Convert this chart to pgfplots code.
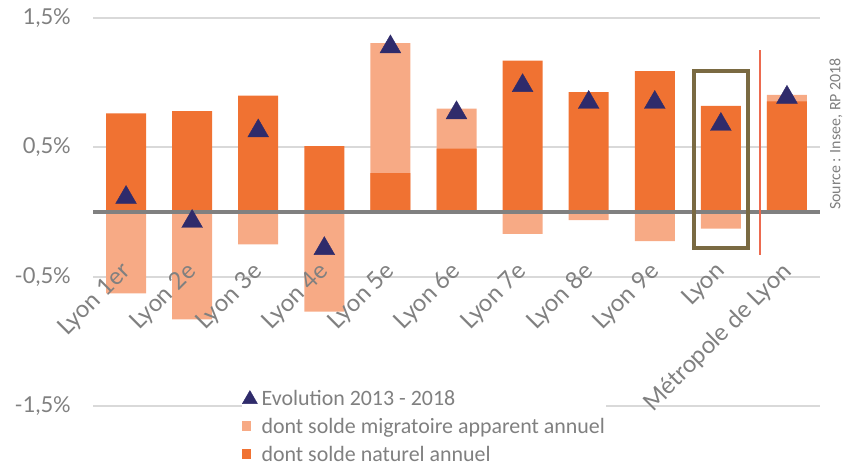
\documentclass[border=0pt]{standalone}
\usepackage{fontspec}
\setmainfont{Lato}
\newfontfamily\carlito{Carlito}
\usepackage{pgfplots}
\pgfplotsset{compat=1.18}
\pgfplotsset{
  layers/mylayers/.define layer set={axis background,axis grid,axis ticks,axis lines,pre main,main,axis tick labels,axis descriptions,axis foreground}{
    grid style={/pgfplots/on layer=axis grid},
    tick style={/pgfplots/on layer=axis ticks},
    axis line style={/pgfplots/on layer=axis lines},
    label style={/pgfplots/on layer=axis descriptions},
    legend style={/pgfplots/on layer=axis descriptions},
    title style={/pgfplots/on layer=axis descriptions},
    colorbar style={/pgfplots/on layer=axis descriptions},
    ticklabel style={/pgfplots/on layer=axis tick labels},
    axis background@ style={/pgfplots/on layer=axis background},
    3d box foreground style={/pgfplots/on layer=axis foreground},
  },
}
\definecolor{nat}{HTML}{F07232}
\definecolor{mig}{HTML}{F7AA85}
\definecolor{navy}{HTML}{2F2B6B}
\definecolor{lab}{HTML}{808080}
\definecolor{gridc}{HTML}{D9D9D9}
\definecolor{boxc}{HTML}{7A6A42}
\definecolor{redl}{HTML}{EC6A4F}
\begin{document}
\begin{tikzpicture}
\begin{axis}[
  set layers=mylayers,
  name=ax, at={(0,0)}, anchor=south west,
  width=727bp, height=388bp, scale only axis,
  xmin=-0.5, xmax=10.5, ymin=-1.5, ymax=1.5,
  axis line style={draw=none},
  tick style={draw=none}, major tick length=0pt,
  ytick={-1.5,-0.5,0.5,1.5},
  yticklabels={{-1,5\%},{-0,5\%},{0,5\%},{1,5\%}},
  yticklabel style={font=\fontsize{22}{26}\selectfont, text=lab, inner sep=0pt, xshift=-22bp},
  ymajorgrids, grid style={gridc, line width=2bp},
  xtick={0,...,10},
  xticklabels={Lyon 1er,Lyon 2e,Lyon 3e,Lyon 4e,Lyon 5e,Lyon 6e,Lyon 7e,Lyon 8e,Lyon 9e,Lyon,Métropole de Lyon},
  xticklabel style={xshift=-7bp, rotate=45, anchor=north east, inner sep=0pt, font=\fontsize{24}{28}\selectfont, text=lab},
  xticklabel shift=-146bp,
  clip=false,
  legend cell align=left,
  legend style={at={(axis description cs:0,0)}, anchor=north west, xshift=149bp, yshift=17bp,
    inner sep=0pt, draw=none, fill=white, row sep=9.5bp,
    font=\carlito\fontsize{22}{25}\selectfont, text=lab,
    nodes={inner sep=1bp}},
]
\addlegendimage{legend image code/.code={\fill[navy] (0bp,-5bp)--(15bp,-5bp)--(7.5bp,8bp)--cycle;}}
\addlegendentry{\hspace{3bp}Evolution 2013 - 2018}
\addlegendimage{legend image code/.code={\fill[mig] (0bp,-3bp) rectangle (8bp,6bp);}}
\addlegendentry{\hspace{3bp}dont solde migratoire apparent annuel}
\addlegendimage{legend image code/.code={\fill[nat] (0bp,-3bp) rectangle (8bp,6bp);}}
\addlegendentry{\hspace{3bp}dont solde naturel annuel}

% light part: positive migratory drawn to total, negative from 0
\addplot[ybar, bar width=40bp, bar shift=0pt, fill=mig, draw=none, forget plot] coordinates {
  (0,-0.63) (1,-0.83) (2,-0.25) (3,-0.77) (4,1.305) (5,0.80) (6,-0.17) (7,-0.063) (8,-0.226) (9,-0.128) (10,0.906)};
% natural
\addplot[ybar, bar width=40bp, bar shift=0pt, fill=nat, draw=none, forget plot] coordinates {
  (0,0.762) (1,0.78) (2,0.90) (3,0.51) (4,0.30) (5,0.49) (6,1.17) (7,0.927) (8,1.09) (9,0.82) (10,0.855)};
% zero line
\addplot[lab, line width=3.5bp, forget plot] coordinates {(-0.5,0) (10.5,0)};
% evolution
\addplot[only marks, mark=triangle*, mark size=12bp, navy, mark options={yshift=-3bp, draw=navy, fill=navy}, forget plot] coordinates {
  (0,0.135) (1,-0.05) (2,0.65) (3,-0.26) (4,1.30) (5,0.79) (6,1.00) (7,0.87) (8,0.87) (9,0.70) (10,0.91)};
\draw[boxc, line width=4bp] (axis cs:8.59,1.089) rectangle (axis cs:9.41,-0.28);
\draw[redl, line width=2.5bp] (axis cs:9.59,1.251) -- (axis cs:9.59,-0.329);
\end{axis}
\node[rotate=90, anchor=west, inner sep=0pt, font=\carlito\fontsize{16}{19}\selectfont, text=lab] at (743bp,196bp) {Source : Insee, RP 2018};
\pgfresetboundingbox
\path[use as bounding box] (-93bp,-62bp) rectangle (755bp,406bp);
\end{tikzpicture}
\end{document}
